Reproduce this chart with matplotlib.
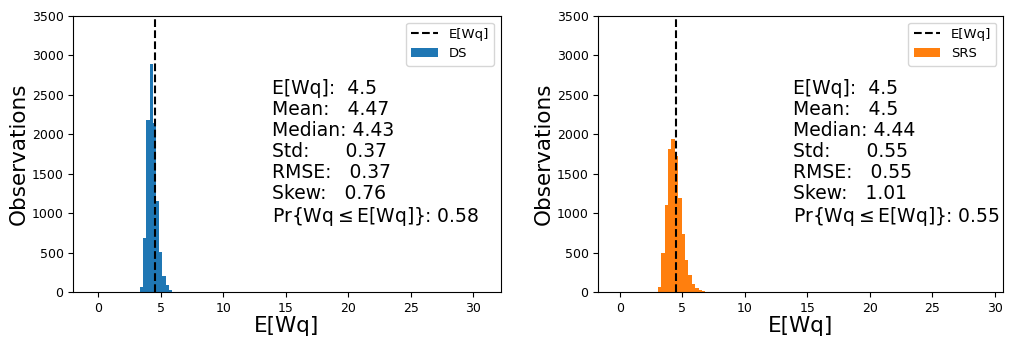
import matplotlib.pyplot as plt
import numpy as np

# expected waiting time (theory)
expected_wq = 4.5

# DS histogram (bin edges and counts)
ds_edges = [3.34, 3.59, 3.85, 4.10, 4.36, 4.61, 4.87, 5.12, 5.38, 5.63, 5.89]
ds_counts = [71, 684, 2183, 2892, 2141, 1157, 514, 210, 92, 29]

# SRS histogram
srs_edges = [3.06, 3.33, 3.60, 3.87, 4.14, 4.42, 4.69, 4.96, 5.23, 5.50,
             5.77, 6.04, 6.31, 6.58, 6.85, 7.12]
srs_counts = [71, 502, 1106, 1811, 1942, 1727, 1191, 735, 409, 219,
              105, 58, 29, 16, 8]

ds_stats = ["E[Wq]:  4.5",
            "Mean:   4.47",
            "Median: 4.43",
            "Std:      0.37",
            "RMSE:   0.37",
            "Skew:   0.76",
            r"Pr{Wq$\leq$E[Wq]}: 0.58"]
srs_stats = ["E[Wq]:  4.5",
             "Mean:   4.5",
             "Median: 4.44",
             "Std:      0.55",
             "RMSE:   0.55",
             "Skew:   1.01",
             r"Pr{Wq$\leq$E[Wq]}: 0.55"]

panels = [
    (ds_edges, ds_counts, "DS", "#1f77b4", ds_stats, (-2.0, 32.2),
     [0.0721, 0.1403, 0.4202, 0.8126]),
    (srs_edges, srs_counts, "SRS", "#ff7f0e", srs_stats, (-1.71, 30.66),
     [0.5883, 0.1403, 0.3979, 0.8126]),
]

fig = plt.figure(figsize=(10.17, 3.4), dpi=100)

for edges, counts, name, color, stats, xlim, rect in panels:
    ax = fig.add_axes(rect)
    edges = np.array(edges)
    ax.axvline(expected_wq, color="k", linestyle="--", linewidth=1.5,
               label="E[Wq]")
    ax.hist(edges[:-1], bins=edges, weights=counts, color=color, label=name)
    ax.set_xlim(*xlim)
    ax.set_ylim(0, 3500)
    ax.set_xticks([0, 5, 10, 15, 20, 25, 30])
    ax.set_yticks(range(0, 3501, 500))
    ax.tick_params(labelsize=9)
    ax.set_xlabel("E[Wq]", fontsize=15.5, labelpad=1)
    ax.set_ylabel("Observations", fontsize=15.5, labelpad=2)
    ax.text(13.9, 2700, "\n".join(stats), fontsize=13.5, va="top", ha="left",
            linespacing=1.13)
    ax.legend(loc="upper right", fontsize=9.5)

fig.savefig("out.png", dpi=100)
